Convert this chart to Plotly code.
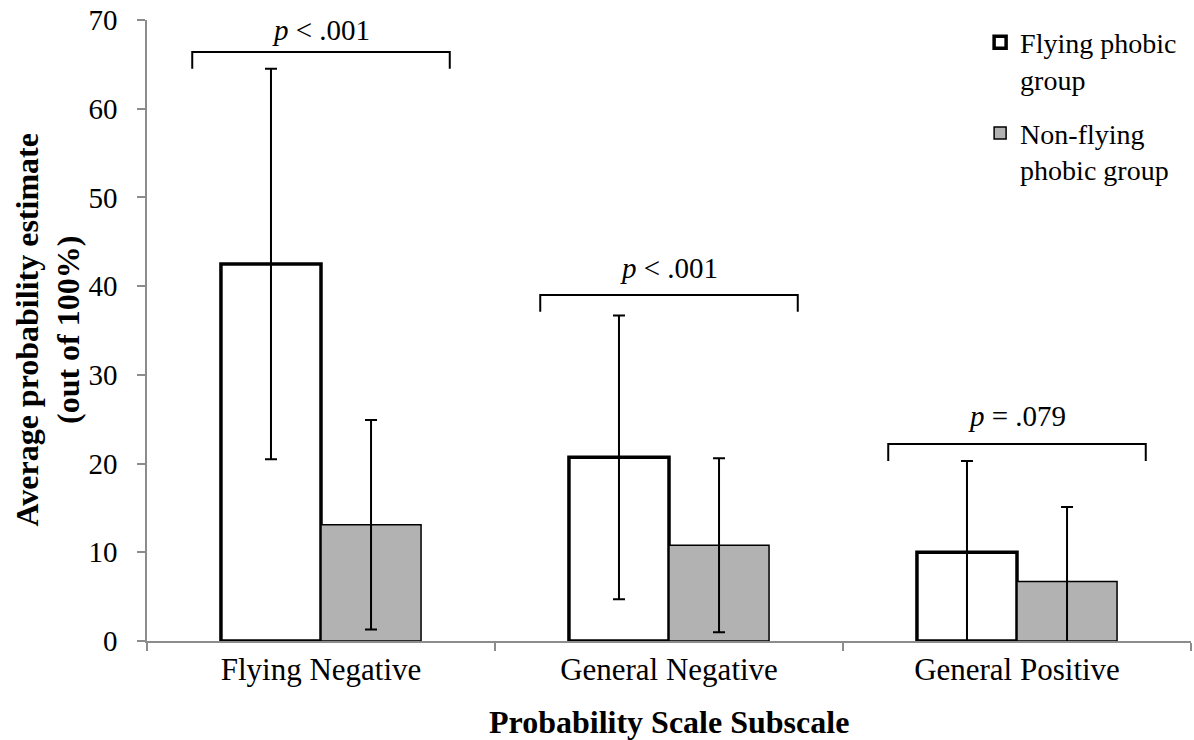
import plotly.graph_objects as go

categories = ["Flying Negative", "General Negative", "General Positive"]
phobic_mean = [42.5, 20.7, 10.0]
phobic_err = [22.0, 16.0, 10.3]
nonphobic_mean = [13.1, 10.8, 6.7]
nonphobic_err = [11.8, 9.8, 8.4]
p_labels = ["<i>p</i> &lt; .001", "<i>p</i> &lt; .001", "<i>p</i> = .079"]
bracket_top = [66.4, 39.0, 22.2]
bracket_drop = 1.9
bracket_half = 0.37
p_text_y = [68.9, 42.0, 25.4]

SERIF = "Liberation Serif, Times New Roman, serif"

fig = go.Figure()
fig.add_trace(go.Bar(
    x=categories, y=phobic_mean, name="Flying phobic<br>group", legendgroup="a",
    marker=dict(color="white", line=dict(color="black", width=3.5)),
    error_y=dict(type="data", array=phobic_err, visible=True,
                 color="black", thickness=2, width=6),
))
fig.add_trace(go.Bar(
    x=categories, y=nonphobic_mean, name="Non-flying<br>phobic group", legendgroup="b",
    marker=dict(color="#b2b2b2", line=dict(color="black", width=1.5)),
    error_y=dict(type="data", array=nonphobic_err, visible=True,
                 color="black", thickness=2, width=6),
))

for i, (top, lab, ty) in enumerate(zip(bracket_top, p_labels, p_text_y)):
    x0, x1 = i - bracket_half, i + bracket_half
    y0 = top - bracket_drop
    fig.add_shape(type="path", xref="x", yref="y",
                  path=f"M {x0} {y0} L {x0} {top} L {x1} {top} L {x1} {y0}",
                  line=dict(color="black", width=2))
    fig.add_annotation(x=i, y=ty, xref="x", yref="y", text=lab, showarrow=False,
                       font=dict(family=SERIF, size=29, color="black"))

fig.add_annotation(x=0.5, y=0, xref="paper", yref="paper", yshift=-81,
                   xanchor="center", yanchor="middle",
                   text="<b>Probability Scale Subscale</b>", showarrow=False,
                   font=dict(family=SERIF, size=32, color="black"))
fig.add_annotation(x=0, y=0.5, xref="paper", yref="paper", xshift=-100,
                   xanchor="center", yanchor="middle",
                   text="<b>Average probability estimate<br>(out of 100%)</b>",
                   textangle=-90, showarrow=False,
                   font=dict(family=SERIF, size=32, color="black"))

fig.update_layout(
    width=1194, height=740,
    margin=dict(l=147, r=3, t=20, b=99, autoexpand=False),
    paper_bgcolor="white", plot_bgcolor="white",
    barmode="group", bargap=0.425, bargroupgap=0,
    font=dict(family=SERIF, color="black"),
    legend=dict(x=0.798, y=1.004, xanchor="left", yanchor="top",
                font=dict(family=SERIF, size=28, color="black"),
                valign="top", tracegroupgap=15, bgcolor="rgba(0,0,0,0)"),
    showlegend=True,
)
fig.update_xaxes(
    automargin=False,
    showline=True, linecolor="#8c8c8c", linewidth=1.5,
    ticks="outside", tickson="boundaries", ticklen=8, tickcolor="#8c8c8c", tickwidth=1.5,
    tickfont=dict(family=SERIF, size=31, color="black"),
    showgrid=False, zeroline=False,
)
fig.update_yaxes(
    automargin=False,
    range=[0, 70], dtick=10,
    showline=True, linecolor="#8c8c8c", linewidth=1.5,
    ticks="outside", ticklen=8, tickcolor="#8c8c8c", tickwidth=1.5,
    ticklabelstandoff=14, ticklabeloverflow="allow",
    tickfont=dict(family=SERIF, size=29, color="black"),
    showgrid=False, zeroline=False,
)

fig.write_html(
    "out.html",
    config={"displayModeBar": False},
    post_script="document.body.style.margin='0';document.body.style.overflow='hidden';",
)
